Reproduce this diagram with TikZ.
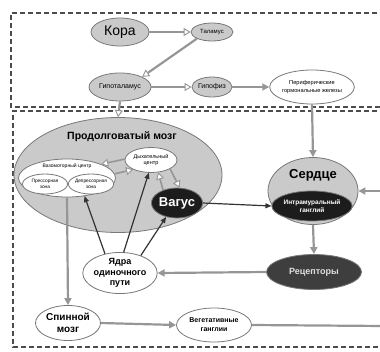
\documentclass[tikz,border=0pt]{standalone}
\usepackage{fontspec}
\setmainfont{Liberation Sans}
\usepackage{tikz}
\usetikzlibrary{shapes,arrows.meta,positioning,calc}

\definecolor{ovalgray}{RGB}{202,202,202}
\definecolor{edgegray}{RGB}{120,120,120}
\definecolor{linkgray}{RGB}{150,150,150}
\definecolor{darkfill}{RGB}{28,28,28}
\definecolor{recfill}{RGB}{62,62,62}
\newcommand{\fsz}[2]{\fontsize{#1}{#2}\selectfont}

\begin{document}
\begin{tikzpicture}[x=1pt,y=-1pt,
    oval/.style={ellipse, draw=edgegray, line width=0.8pt, inner sep=0pt, align=center},
    grayoval/.style={oval, fill=ovalgray},
    whiteoval/.style={oval, fill=white},
    darkoval/.style={oval, fill=darkfill, text=white},
    hollow/.style={draw=linkgray, line width=2.2pt,
        -{Triangle[open, fill=white, length=7pt, width=8pt, line width=0.9pt]}},
    grayarrow/.style={draw=linkgray, line width=2.2pt, -{Triangle[length=7pt, width=7pt]}},
    darkarrow/.style={draw=black!80, line width=1.2pt, -{Triangle[length=6pt, width=5pt]}},
    region/.style={draw=black!70, line width=1.3pt, dash pattern=on 5pt off 3pt}]
    \useasboundingbox (0,0) rectangle (380,351);

    % Regions
    \draw[region] (385,13) -- (11,13) -- (11,107) -- (385,107);
    \draw[region] (385,111) -- (13,111) -- (13,347) -- (385,347);

    % Upper part
    \node[grayoval, minimum width=58, minimum height=28, font=\fsz{14}{16}] (kora) at (120,32) {Кора};
    \node[grayoval, minimum width=42, minimum height=18, font=\fsz{6}{7}] (thal) at (212,32) {Таламус};
    \node[grayoval, minimum width=62, minimum height=28, font=\fsz{7}{8}] (hypo) at (120,87) {Гипоталамус};
    \node[grayoval, minimum width=40, minimum height=20, font=\fsz{7}{8}] (pit) at (212,87) {Гипофиз};
    \node[whiteoval, minimum width=84, minimum height=34, font=\fsz{5.7}{7.2}] (periph) at (312,87) {Периферические\\гормональные железы};

    % Medulla
    \node[grayoval, minimum width=208, minimum height=115] (medulla) at (118,175) {};
    \node[font=\bfseries\fsz{10.5}{12}] (medtitle) at (122,137) {Продолговатый мозг};
    \node[whiteoval, minimum width=97, minimum height=38] (vaso) at (67,178) {};
    \node[font=\fsz{5}{6}] (vasotitle) at (67,166) {Вазомоторный центр};
    \node[whiteoval, minimum width=45, minimum height=20, font=\fsz{4.8}{5.8}] (press) at (45,184) {Прессорная\\зона};
    \node[whiteoval, minimum width=45, minimum height=20, font=\fsz{4.8}{5.8}] (depress) at (91,184) {Депрессорная\\зона};
    \node[whiteoval, minimum width=52, minimum height=25, font=\fsz{5.5}{6.5}] (resp) at (151,160) {Дыхательный\\центр};
    \node[darkoval, minimum width=51, minimum height=30, font=\bfseries\fsz{13}{14}] (vagus) at (177,203) {Вагус};

    % Heart
    \node[grayoval, minimum width=90, minimum height=67] (heart) at (313,191) {};
    \node[font=\bfseries\fsz{13}{15}] (hearttitle) at (313,175) {Сердце};
    \node[darkoval, minimum width=73, minimum height=30, font=\bfseries\fsz{6.5}{8}] (intram) at (312,206) {Интрамуральный\\ганглий};
    \node[oval, fill=recfill, text=white!88!black, minimum width=95, minimum height=35, font=\bfseries\fsz{9}{10}] (recep) at (314,272) {Рецепторы};

    % Lower part
    \node[whiteoval, minimum width=74, minimum height=40, font=\bfseries\fsz{9}{10.5}] (nucl) at (120,273) {Ядра\\одиночного\\пути};
    \node[whiteoval, minimum width=65, minimum height=35, font=\bfseries\fsz{10}{12}] (spinal) at (68,323) {Спинной\\мозг};
    \node[whiteoval, minimum width=75, minimum height=34, font=\bfseries\fsz{7}{9}] (veget) at (214,325) {Вегетативные\\ганглии};

    \coordinate (heartin) at (385,191);
    \coordinate (vegout) at (385,326);

    % Links
    \draw[hollow] (kora) -- (thal);
    \draw[hollow] (thal.south west) -- (hypo.north east);
    \draw[hollow] (hypo) -- (pit);
    \draw[grayarrow] (pit) -- (periph);
    \draw[hollow] (hypo.south) -- (medulla.north);
    \draw[grayarrow] (periph.south) -- (heart.north);
    \draw[grayarrow] (heartin) -- (heart.east);
    \draw[grayarrow] (heart.south) -- (recep.north);
    \draw[grayarrow] (recep.west) -- (nucl.east);

    \draw[hollow, line width=1.6pt] (resp.178) -- (vaso.22);
    \draw[hollow, line width=1.6pt] (vaso.5) -- (resp.208);
    \draw[hollow, line width=1.6pt] (vagus.137) -- (resp.-60);
    \draw[hollow, line width=1.6pt] (resp.-25) -- (vagus.80);

    \draw[darkarrow] (nucl.128) -- (vaso.-46);
    \draw[darkarrow] (nucl.80) -- (resp.-100);
    \draw[darkarrow] (nucl.40) -- (vagus.-128);
    \draw[darkarrow] (vagus.east) -- (intram.west);

    \draw[grayarrow] (vaso.south) -- (spinal.north);
    \draw[grayarrow] (spinal.east) -- (veget.west);
    \draw[draw=linkgray, line width=2.2pt] (veget.east) -- (vegout);
\end{tikzpicture}
\end{document}
